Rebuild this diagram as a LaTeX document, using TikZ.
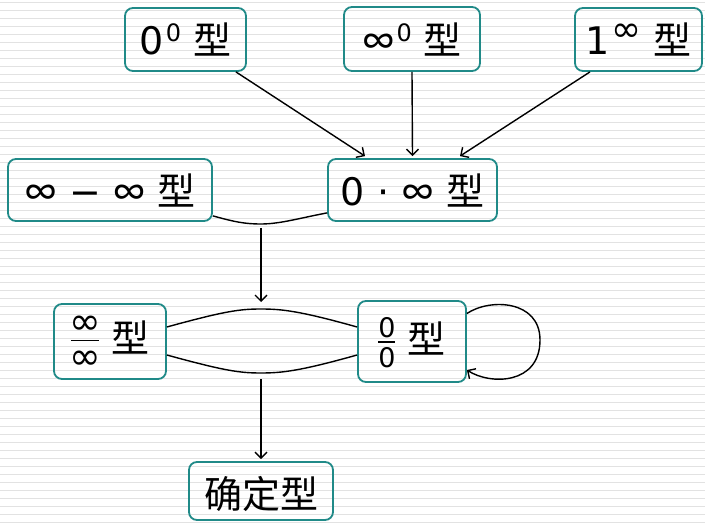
\documentclass[tikz,border=0pt]{standalone}
\usepackage{fontspec}
\setmainfont{DejaVu Sans}
\newfontfamily\cjk{Noto Sans CJK SC}
\newfontfamily\ptinf{PT Sans}
\usetikzlibrary{arrows.meta}
\definecolor{boxteal}{HTML}{208A88}
\definecolor{stripe}{HTML}{E2E2E2}
\newcommand\INF{{\ptinf ∞}}
\newcommand\supx[1]{\kern2pt\raisebox{13pt}{\fontsize{24}{24}\selectfont #1}}
\newcommand\supinf{\kern2pt\raisebox{13pt}{\fontsize{36}{36}\selectfont ∞}}
% size, glyph, rule width, num baseline above rule, den baseline below rule, rule above baseline
\newcommand\vfr[6]{%
  \begingroup\fontsize{#1}{#1}\selectfont
  \setbox0\hbox to #3{\hss#2\hss}%
  \raisebox{#6}{\rlap{\raisebox{#4}{\copy0}}\rlap{\raisebox{-#5}{\copy0}}\rule[-0.75pt]{#3}{1.5pt}}%
  \endgroup}
\tikzset{
  box/.style={draw=boxteal, line width=1.8pt, rounded corners=8pt, inner sep=0pt,
    font=\fontsize{38}{40}\selectfont, text height=31pt, text depth=0pt, align=center},
  con/.style={line width=1.4pt, black},
  arr/.style={con, -{Straight Barb[length=6pt,width=12pt]}}
}
\begin{document}
\begin{tikzpicture}[x=1pt,y=-1pt]
\useasboundingbox (0,0) rectangle (705,524);
\fill[white] (0,0) rectangle (705,524);
\foreach \i in {0,...,65} \draw[stripe, line width=1pt] (0,2.5+8*\i) -- (705,2.5+8*\i);

\node[box, minimum width=121pt, minimum height=63pt] (a) at (185.5,39.5) {0\supx{0} {\cjk 型}};
\node[box, minimum width=136pt, minimum height=64pt] (b) at (412,39) {\INF\supx{0} {\cjk 型}};
\node[box, minimum width=127pt, minimum height=63pt] (c) at (638.5,39.5) {1\supinf\ {\cjk 型}};
\node[box, minimum width=204pt, minimum height=62pt] (d) at (110,190) {\INF\ − \INF\ {\cjk 型}};
\node[box, minimum width=169pt, minimum height=62pt] (e) at (412.5,190) {0 ⋅ \INF\ {\cjk 型}};
\node[box, minimum width=112pt, minimum height=75pt, text height=22pt] (f) at (110,341.5) {\vfr{38pt}{∞}{28pt}{6.4pt}{29pt}{12pt} {\cjk 型}};
\node[box, minimum width=108pt, minimum height=81pt, text height=24pt] (g) at (412,341.5) {\vfr{27pt}{0}{17pt}{5pt}{25pt}{11.5pt} {\cjk 型}};
\node[box, minimum width=144pt, minimum height=58pt, text height=34pt] (h) at (261,491) {{\cjk 确定型}};

\draw[arr] ([xshift=-11pt]a.south east) -- ([xshift=-47.5pt,yshift=2pt]e.north);
\draw[arr] (b.south) -- ([yshift=2pt]e.north);
\draw[arr] ([xshift=-48.5pt]c.south) -- ([xshift=47.5pt,yshift=2pt]e.north);

\coordinate (j) at (261,224);
\coordinate (lt) at (261,309);
\coordinate (lb) at (261,373);
\draw[con] ([yshift=6pt]d.south east) .. controls (235,222) and (245,224) .. (j)
  .. controls (280,224) and (300,218) .. ([yshift=9pt]e.south west);
\draw[arr] ([yshift=-4pt]j) -- ([yshift=7pt]lt);

\draw[con] ([yshift=14.5pt]f.east) .. controls (225,311) and (240,309) .. (lt)
  .. controls (282,309) and (300,311) .. ([yshift=14.5pt]g.west);
\draw[con] ([yshift=-13.5pt]f.east) .. controls (225,371) and (240,373) .. (lb)
  .. controls (282,373) and (300,371) .. ([yshift=-13.5pt]g.west);
\draw[arr] ([yshift=-6pt]lb) -- ([yshift=2pt]h.north);

\draw[arr] ([yshift=28pt]g.east) .. controls (490,298) and (540,300) .. (540,340)
  .. controls (540,385) and (490,385) .. ([yshift=-28.5pt]g.east);
\end{tikzpicture}
\end{document}
